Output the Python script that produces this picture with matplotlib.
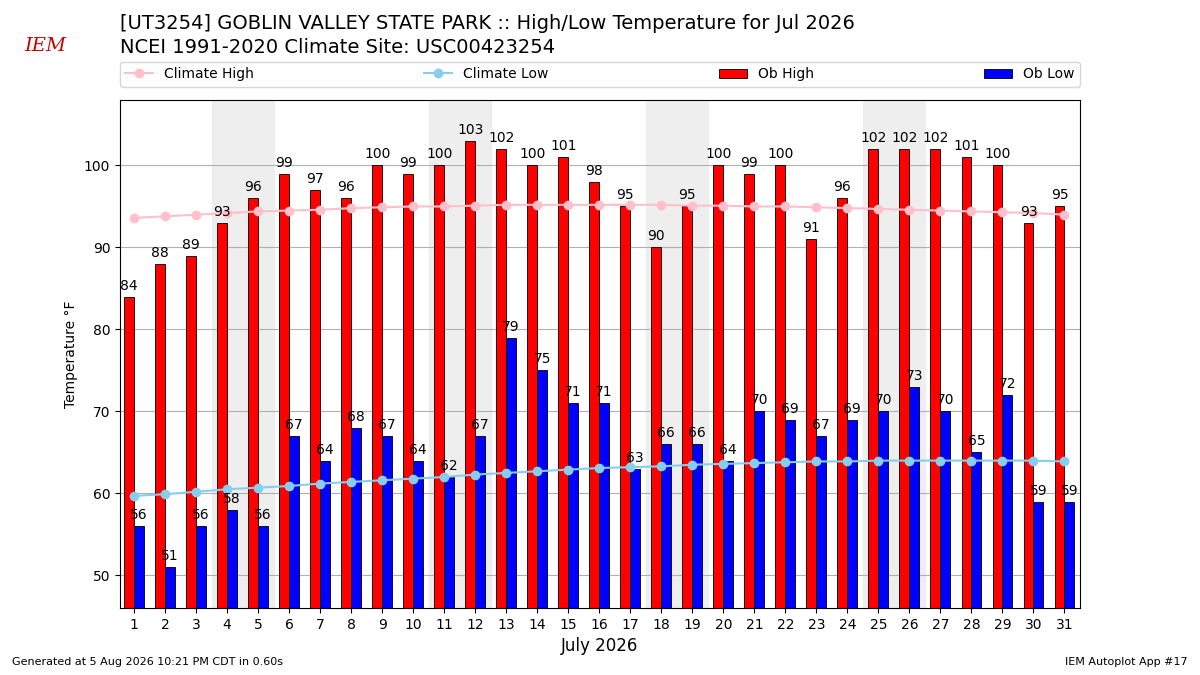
import numpy as np
import matplotlib
matplotlib.use("Agg")
import matplotlib.pyplot as plt

days = np.arange(1, 32)
ob_high = [84, 88, 89, 93, 96, 99, 97, 96, 100, 99, 100, 103, 102, 100, 101, 98,
           95, 90, 95, 100, 99, 100, 91, 96, 102, 102, 102, 101, 100, 93, 95]
ob_low = [56, 51, 56, 58, 56, 67, 64, 68, 67, 64, 62, 67, 79, 75, 71, 71,
          63, 66, 66, 64, 70, 69, 67, 69, 70, 73, 70, 65, 72, 59, 59]
clim_high = [93.6, 93.8, 94.0, 94.2, 94.4, 94.5, 94.6, 94.8, 94.9, 95.0, 95.0, 95.1,
             95.2, 95.2, 95.2, 95.2, 95.2, 95.2, 95.1, 95.1, 95.0, 95.0, 94.9, 94.8,
             94.7, 94.6, 94.5, 94.4, 94.3, 94.2, 94.0]
clim_low = [59.7, 59.9, 60.2, 60.5, 60.7, 60.9, 61.2, 61.4, 61.6, 61.8, 62.0, 62.3,
            62.5, 62.7, 62.9, 63.1, 63.2, 63.3, 63.5, 63.6, 63.7, 63.8, 63.9, 63.9,
            64.0, 64.0, 64.0, 64.0, 64.0, 64.0, 63.9]
weekends = [(3.5, 5.5), (10.5, 12.5), (17.5, 19.5), (24.5, 26.5)]

fig = plt.figure(figsize=(12, 6.75), dpi=100)
ax = fig.add_axes([0.1, 0.099, 0.8, 0.753])

for a, b in weekends:
    ax.axvspan(a, b, color="#eeeeee", zorder=0)

w = 0.32
bh = ax.bar(days - w / 2, ob_high, w, color="red", edgecolor="black", linewidth=0.6,
            label="Ob High", zorder=2)
bl = ax.bar(days + w / 2, ob_low, w, color="blue", edgecolor="black", linewidth=0.6,
            label="Ob Low", zorder=2)
for d, h, l in zip(days, ob_high, ob_low):
    ax.text(d - w / 2, h + 0.5, str(h), ha="center", va="bottom", fontsize=10, zorder=4)
    ax.text(d + w / 2, l + 0.5, str(l), ha="center", va="bottom", fontsize=10, zorder=4)

lh, = ax.plot(days, clim_high, "-o", color="pink", markersize=6, lw=1.5, label="Climate High", zorder=3)
ll, = ax.plot(days, clim_low, "-o", color="skyblue", markersize=6, lw=1.5, label="Climate Low", zorder=3)

ax.set_xlim(0.55, 31.5)
ax.set_ylim(46, 108)
ax.set_xticks(days)
ax.set_yticks([50, 60, 70, 80, 90, 100])
ax.yaxis.grid(True, color="#b0b0b0", zorder=1)
ax.set_axisbelow(True)
ax.set_ylabel("Temperature °F")
ax.set_xlabel("July 2026", fontsize=12)

fig.legend(handles=[lh, ll, bh, bl], loc="center", ncol=4, mode="expand",
           bbox_to_anchor=(0.094, 0.86, 0.812, 0.06), fontsize=10)

fig.text(0.1, 0.965, "[UT3254] GOBLIN VALLEY STATE PARK :: High/Low Temperature for Jul 2026",
         fontsize=14, va="center")
fig.text(0.1, 0.93, "NCEI 1991-2020 Climate Site: USC00423254", fontsize=14, va="center")
fig.text(0.02, 0.925, "IEM", color="#cc0000", fontsize=14, style="italic", fontfamily="serif")
fig.text(0.01, 0.015, "Generated at 5 Aug 2026 10:21 PM CDT in 0.60s", fontsize=8)
fig.text(0.99, 0.015, "IEM Autoplot App #17", fontsize=8, ha="right")

fig.savefig("out.png", dpi=100)
